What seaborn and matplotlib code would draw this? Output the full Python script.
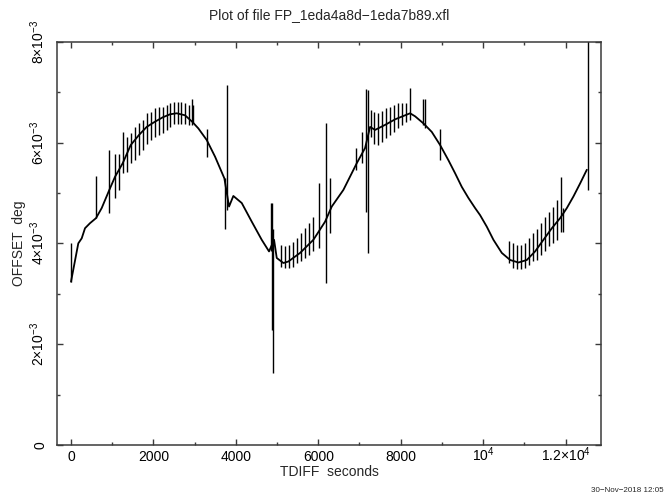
import matplotlib
matplotlib.use("Agg")
import matplotlib.pyplot as plt
from matplotlib.ticker import FixedLocator
import numpy as np
import pandas as pd
import seaborn as sns

# ---------------- data ----------------
title = "Plot of file FP_1eda4a8d\u22121eda7b89.xfl"
x_label = "TDIFF  seconds"
y_label = "OFFSET  deg"
stamp = "30\u2212Nov\u22122018 12:05"

# smooth curve: time [s], offset [1e-3 deg]
curve_t = [0, 56, 177, 260, 340, 461, 607, 745, 930, 1068, 1255, 1449, 1650,
           1837, 2031, 2226, 2403, 2565, 2767, 2944, 3090, 3293, 3495, 3721,
           3835, 3939, 4143, 4386, 4628, 4805, 4927, 4992, 5153, 5274, 5558,
           5881, 6165, 6327, 6609, 6934, 7135, 7257, 7378, 7621, 7864, 8106,
           8228, 8349, 8551, 8754, 8956, 9157, 9320, 9482, 9643, 9805, 9926,
           10089, 10250, 10453, 10655, 10856, 11060, 11261, 11463, 11667,
           11868, 12031, 12191, 12354, 12516]
curve_v = [3.24, 3.48, 4.00, 4.10, 4.30, 4.40, 4.50, 4.70, 5.06, 5.32, 5.59,
           5.95, 6.15, 6.31, 6.41, 6.50, 6.56, 6.58, 6.54, 6.41, 6.28, 6.05,
           5.72, 5.29, 4.73, 4.94, 4.80, 4.43, 4.07, 3.84, 4.07, 3.71, 3.61,
           3.64, 3.81, 4.07, 4.43, 4.73, 5.06, 5.59, 5.89, 6.31, 6.25, 6.35,
           6.46, 6.54, 6.58, 6.52, 6.38, 6.21, 5.95, 5.65, 5.39, 5.12, 4.90,
           4.70, 4.56, 4.33, 4.07, 3.81, 3.67, 3.62, 3.67, 3.84, 4.07, 4.30,
           4.50, 4.70, 4.93, 5.19, 5.46]

# error bars: time [s], lower and upper ends [1e-3 deg]
bar_t = [0, 607, 930, 1068, 1173, 1255, 1352, 1450, 1554, 1651, 1741, 1838,
         1935, 2032, 2129, 2226, 2323, 2403, 2500, 2590, 2680, 2770, 2860,
         2940, 2965, 3296, 3733, 3789, 4845, 4865, 4893, 5100, 5190, 5278,
         5375, 5472, 5569, 5666, 5763, 5860, 6023, 6199, 6289, 6918, 7072,
         7169, 7218, 7285, 7358, 7447, 7543, 7640, 7737, 7834, 7931, 8028,
         8125, 8237, 8537, 8593, 8965, 10630, 10720, 10817, 10914, 11011,
         11108, 11205, 11302, 11399, 11496, 11593, 11690, 11787, 11884,
         11948, 12534]
bar_lo = [3.24, 4.50, 4.60, 4.89, 5.06, 5.39, 5.42, 5.59, 5.65, 5.75, 5.85,
          5.98, 6.05, 6.11, 6.15, 6.19, 6.25, 6.30, 6.36, 6.36, 6.36, 6.36,
          6.35, 6.35, 6.38, 5.71, 4.28, 4.66, 3.84, 2.29, 1.43, 3.54, 3.51,
          3.51, 3.54, 3.61, 3.64, 3.71, 3.77, 3.84, 3.90, 3.21, 4.20, 5.46,
          5.59, 4.63, 3.81, 6.11, 5.98, 5.95, 6.02, 6.08, 6.15, 6.21, 6.28,
          6.35, 6.41, 6.45, 6.35, 6.28, 5.65, 3.61, 3.51, 3.49, 3.49, 3.51,
          3.57, 3.64, 3.67, 3.77, 3.84, 3.94, 4.00, 4.07, 4.23, 4.23, 5.06]
bar_hi = [4.00, 5.34, 5.85, 5.77, 5.77, 6.21, 6.11, 6.18, 6.31, 6.38, 6.45,
          6.58, 6.61, 6.68, 6.70, 6.71, 6.74, 6.78, 6.80, 6.80, 6.80, 6.78,
          6.74, 6.86, 6.75, 6.26, 5.29, 7.14, 4.80, 4.80, 4.28, 3.97, 3.95,
          3.97, 4.02, 4.10, 4.20, 4.30, 4.41, 4.53, 5.19, 6.38, 5.29, 5.89,
          6.21, 7.07, 7.04, 6.64, 6.61, 6.59, 6.63, 6.68, 6.71, 6.74, 6.78,
          6.78, 6.79, 7.09, 6.86, 6.86, 6.26, 4.04, 4.00, 3.97, 3.97, 4.00,
          4.10, 4.20, 4.28, 4.40, 4.53, 4.63, 4.73, 4.86, 5.32, 4.70, 9.00]

x_ticks = [0, 2000, 4000, 6000, 8000, 10000, 12000]
x_tick_labels = ["0", "2000", "4000", "6000", "8000", r"$10^{4}$",
                 r"$1.2{\times}10^{4}$"]
x_minor = [1000, 3000, 5000, 7000, 9000, 11000]
y_ticks = [0, 2e-3, 4e-3, 6e-3, 8e-3]
y_tick_labels = ["0", r"$2{\times}10^{-3}$", r"$4{\times}10^{-3}$",
                 r"$6{\times}10^{-3}$", r"$8{\times}10^{-3}$"]
y_minor = [1e-3, 3e-3, 5e-3, 7e-3]

# ---------------- styling ----------------
sns.set_theme(style="ticks")
plt.rcParams["font.family"] = ["Liberation Sans", "DejaVu Sans"]
plt.rcParams["mathtext.fontset"] = "custom"
plt.rcParams["mathtext.rm"] = "Liberation Sans"
plt.rcParams["mathtext.it"] = "Liberation Sans:italic"
plt.rcParams["mathtext.bf"] = "Liberation Sans:bold"

W, H = 667, 496
fig = plt.figure(figsize=(W / 100, H / 100), dpi=100)
L, R, T, B = 57.4, 600.8, 41.7, 445.0
ax = fig.add_axes([L / W, 1 - B / H, (R - L) / W, (B - T) / H])

curve = pd.DataFrame({"t": curve_t, "v": np.array(curve_v) * 1e-3})
sns.lineplot(data=curve, x="t", y="v", ax=ax, color="black", lw=1.3,
             estimator=None, sort=False)
ax.vlines(bar_t, np.array(bar_lo) * 1e-3, np.array(bar_hi) * 1e-3,
          color="black", lw=1.0)

ax.set_xlim(-330, 12855)
ax.set_ylim(0, 8e-3)
ax.set_xlabel("")
ax.set_ylabel("")

ax.xaxis.set_major_locator(FixedLocator(x_ticks))
ax.xaxis.set_minor_locator(FixedLocator(x_minor))
ax.yaxis.set_major_locator(FixedLocator(y_ticks))
ax.yaxis.set_minor_locator(FixedLocator(y_minor))
ax.set_xticklabels(x_tick_labels, va="baseline")
ax.set_yticklabels(y_tick_labels, rotation=90, rotation_mode="anchor",
                   ha="center", va="baseline")

spine_c = "#3a3a3a"
for s in ax.spines.values():
    s.set_visible(True)
    s.set_color(spine_c)
    s.set_linewidth(1.1)
ax.tick_params(which="both", direction="in", top=True, right=True,
               color=spine_c, width=1.0, labelsize=10, labelcolor="black")
ax.tick_params(which="major", length=4.0)
ax.tick_params(which="minor", length=2.4)
ax.tick_params(axis="x", which="major", pad=11.5)
ax.tick_params(axis="y", which="major", pad=9.5)

fig.text(329 / W, 1 - 19.5 / H, title, ha="center", va="baseline", fontsize=10)
fig.text(329 / W, 1 - 476 / H, x_label, ha="center", va="baseline", fontsize=10)
fig.text(22.5 / W, 1 - 243 / H, y_label, ha="center", va="baseline",
         rotation=90, rotation_mode="anchor", fontsize=10)
fig.text(664 / W, 1 - 492 / H, stamp, ha="right", va="baseline", fontsize=5.8)

fig.savefig("out.png", dpi=100)
